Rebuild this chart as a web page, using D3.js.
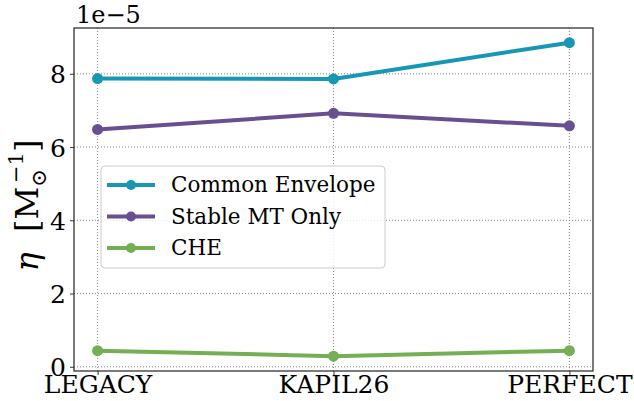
<!DOCTYPE html>
<html>
<head>
<meta charset="utf-8">
<script src="https://cdn.jsdelivr.net/npm/d3@7"></script>
<style>
  html, body { margin: 0; padding: 0; background: #fff; }
  svg { display: block; }
  text { font-family: "DejaVu Serif", serif; fill: #000; }
</style>
</head>
<body>
<script>
// Merger rate per unit star-forming mass, in units of 1e-5 Msun^-1
const categories = ["LEGACY", "KAPIL26", "PERFECT"];
const seriesNames = ["Common Envelope", "Stable MT Only", "CHE"];
const commonEnvelope = [7.87, 7.86, 8.85];
const stableMTOnly = [6.48, 6.92, 6.58];
const che = [0.44, 0.29, 0.44];
const yTicks = [0, 2, 4, 6, 8];
const colors = ["#1797b3", "#674f90", "#74ae55"];

const W = 634, H = 401;
const m = { left: 74, right: 41, top: 28, bottom: 30 };
const pw = W - m.left - m.right, ph = H - m.top - m.bottom;

const svg = d3.select("body").append("svg").attr("width", W).attr("height", H);
const g = svg.append("g").attr("transform", `translate(${m.left},${m.top})`);

const x = d3.scaleLinear().domain([-0.1, 2.1]).range([0, pw]);
const y = d3.scaleLinear().domain([-0.115, 9.25]).range([ph, 0]);

// dotted grid
g.append("g").selectAll("line").data(yTicks).join("line")
  .attr("x1", 0).attr("x2", pw)
  .attr("y1", d => y(d)).attr("y2", d => y(d))
  .attr("stroke", "#888").attr("stroke-width", 1).attr("stroke-dasharray", "1,2");
g.append("g").selectAll("line").data(categories).join("line")
  .attr("x1", (d, i) => x(i)).attr("x2", (d, i) => x(i))
  .attr("y1", 0).attr("y2", ph)
  .attr("stroke", "#888").attr("stroke-width", 1).attr("stroke-dasharray", "1,2");

// axes
const yAxis = d3.axisLeft(y).tickValues(yTicks).tickSize(4).tickPadding(4);
const xAxis = d3.axisBottom(x).tickValues([0, 1, 2]).tickFormat(i => categories[i]).tickSize(4).tickPadding(0);
const ya = g.append("g").call(yAxis);
const xa = g.append("g").attr("transform", `translate(0,${ph})`).call(xAxis);
[ya, xa].forEach(a => {
  a.select(".domain").remove();
  a.selectAll("line").attr("stroke", "#333");
  a.selectAll("text").style("font-family", '"DejaVu Serif", serif').style("font-size", "25px").attr("fill", "#000");
});
ya.selectAll("text").attr("dy", "0.36em");

// series
const series = [commonEnvelope, stableMTOnly, che];
const line = d3.line().x((d, i) => x(i)).y(d => y(d));
series.forEach((s, k) => {
  g.append("path").datum(s).attr("d", line)
    .attr("fill", "none").attr("stroke", colors[k]).attr("stroke-width", 4);
  g.append("g").selectAll("circle").data(s).join("circle")
    .attr("cx", (d, i) => x(i)).attr("cy", d => y(d)).attr("r", 5.5)
    .attr("fill", colors[k]);
});

// frame
g.append("rect").attr("width", pw).attr("height", ph)
  .attr("fill", "none").attr("stroke", "#333").attr("stroke-width", 1.3);

// offset text
svg.append("text").attr("x", m.left + 2).attr("y", 23)
  .style("font-size", "24px").text("1e\u22125");

// y label
const yl = svg.append("text")
  .attr("transform", `translate(38,${m.top + ph / 2 + 6}) rotate(-90)`)
  .attr("text-anchor", "middle").style("font-size", "32px");
yl.append("tspan").style("font-style", "italic").text("\u03b7");
yl.append("tspan").text("\u00a0\u00a0[M");
yl.append("tspan").attr("dy", 8).style("font-size", "21px").text("\u2299");
yl.append("tspan").attr("dy", -23).attr("dx", -14).style("font-size", "21px").text("\u22121");
yl.append("tspan").attr("dy", 15).text("]");

// legend
const lg = svg.append("g").attr("transform", "translate(101,166)");
lg.append("rect").attr("width", 284).attr("height", 102).attr("rx", 4)
  .attr("fill", "#fff").attr("fill-opacity", 0.8).attr("stroke", "#ccc").attr("stroke-width", 1);
seriesNames.forEach((name, k) => {
  const yy = 19 + k * 31.5;
  lg.append("line").attr("x1", 6).attr("x2", 54).attr("y1", yy).attr("y2", yy)
    .attr("stroke", colors[k]).attr("stroke-width", 4);
  lg.append("circle").attr("cx", 30).attr("cy", yy).attr("r", 5).attr("fill", colors[k]);
  lg.append("text").attr("x", 70).attr("y", yy + 7).style("font-size", "21.5px").text(name);
});
</script>
</body>
</html>
